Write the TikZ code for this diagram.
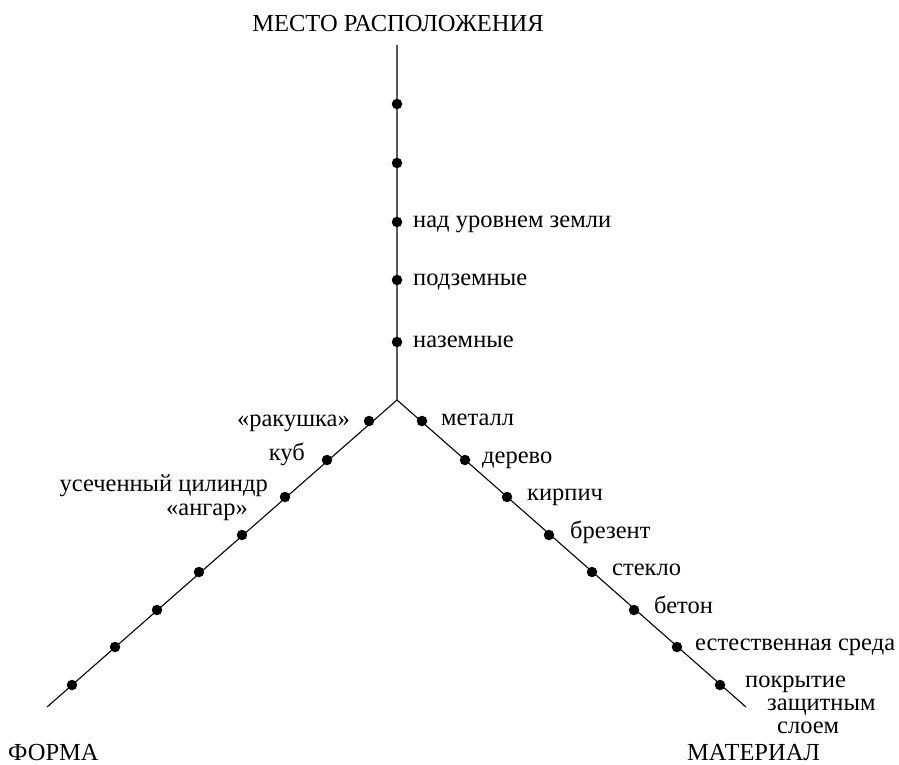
\documentclass[tikz,border=0pt]{standalone}
\usepackage{fontspec}
\setmainfont{Liberation Serif}
\begin{document}
\begin{tikzpicture}[x=1pt,y=-1pt,
  axis/.style={line width=1.1pt},
  pt/.style={circle,fill=black,inner sep=0pt,minimum size=10.5pt},
  lbl/.style={font=\fontsize{24.5}{20}\selectfont,inner sep=0pt},
  tight/.style={lbl,text height=12pt,text depth=4pt},
]
\useasboundingbox (0,0) rectangle (899,765);
\coordinate (O) at (397,400);
\coordinate (T) at (397,45);
\coordinate (L) at (47,707);
\coordinate (R) at (746,707);
\draw[axis] (T) -- (O) -- (L);
\draw[axis] (O) -- (R);
% vertical dots
\node[pt] (v1) at (397,104) {};
\node[pt] (v2) at (397,163) {};
\node[pt] (v3) at (397,222) {};
\node[pt] (v4) at (397,280) {};
\node[pt] (v5) at (397,342) {};
% left dots
\node[pt] (l1) at (369,421) {};
\node[pt] (l2) at (327,460) {};
\node[pt] (l3) at (285,497) {};
\node[pt] (l4) at (242,535) {};
\node[pt] (l5) at (199,572) {};
\node[pt] (l6) at (157,610) {};
\node[pt] (l7) at (115,647) {};
\node[pt] (l8) at (72,685) {};
% right dots
\node[pt] (r1) at (422,421) {};
\node[pt] (r2) at (465,460) {};
\node[pt] (r3) at (507,497) {};
\node[pt] (r4) at (549,535) {};
\node[pt] (r5) at (592,572) {};
\node[pt] (r6) at (634,610) {};
\node[pt] (r7) at (677,647) {};
\node[pt] (r8) at (720,685) {};
% axis titles
\node[lbl,anchor=base] (tt) at (398,32) {МЕСТО РАСПОЛОЖЕНИЯ};
\node[tight,anchor=base west,text depth=0pt] (tl) at (8,760) {ФОРМА};
\node[tight,anchor=base west,text depth=0pt] (tr) at (687,760) {МАТЕРИАЛ};
% vertical labels
\node[lbl,anchor=base west] (tv3) at (413,227) {над уровнем земли};
\node[lbl,anchor=base west] (tv4) at (413,285) {подземные};
\node[lbl,anchor=base west] (tv5) at (413,347) {наземные};
% left labels
\node[lbl,anchor=base east] (tl1) at (350,426) {«ракушка»};
\node[lbl,anchor=base east] (tl2) at (305,460) {куб};
\node[tight,anchor=base east] (tl3a) at (268,491) {усеченный цилиндр};
\node[tight,anchor=base east] (tl3b) at (248,515) {«ангар»};
% right labels
\node[lbl,anchor=base west] (tr1) at (441,425) {металл};
\node[lbl,anchor=base west] (tr2) at (482,463) {дерево};
\node[lbl,anchor=base west] (tr3) at (527,500) {кирпич};
\node[lbl,anchor=base west] (tr4) at (570,538) {брезент};
\node[lbl,anchor=base west] (tr5) at (612,575) {стекло};
\node[lbl,anchor=base west] (tr6) at (654,613) {бетон};
\node[lbl,anchor=base west] (tr7) at (695,650) {естественная среда};
\node[tight,anchor=base west] (tr8a) at (745,687) {покрытие};
\node[tight,anchor=base west] (tr8b) at (767,710) {защитным};
\node[tight,anchor=base west] (tr8c) at (777,733) {слоем};
\end{tikzpicture}
\end{document}
